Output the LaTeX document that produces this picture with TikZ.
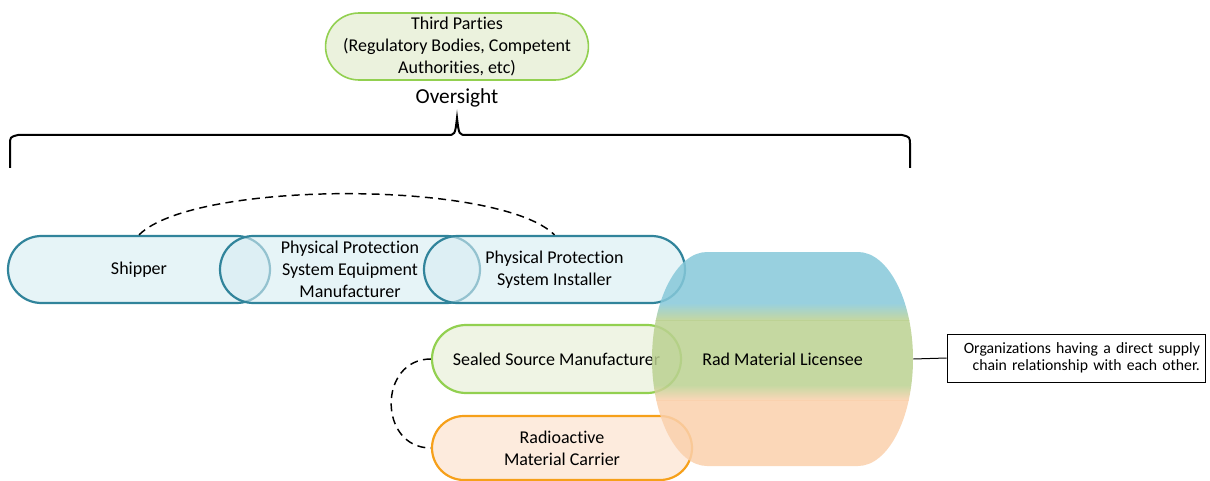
\documentclass[tikz,border=0pt]{standalone}
\usepackage{fontspec}
\setmainfont{Carlito}[Ligatures=NoCommon]
\usetikzlibrary{shapes.misc,positioning}
\newlength{\pxu}\setlength{\pxu}{0.75pt}
\definecolor{tealline}{HTML}{31849B}
\definecolor{tealfill}{HTML}{D6ECF2}
\definecolor{greenline}{HTML}{92D050}
\definecolor{greenfill}{HTML}{E4EDD2}
\definecolor{orangeline}{HTML}{F6A01A}
\definecolor{orangefill}{HTML}{FBDDC6}
\definecolor{licblue}{HTML}{86C8D9}
\definecolor{licgreen}{HTML}{BBD191}
\definecolor{licpeach}{HTML}{FAD0AC}
\tikzset{
  party/.style={rounded rectangle, line width=2.2\pxu, align=center, inner sep=0pt,
    font=\fontsize{13.5}{16.5}\selectfont, fill opacity=0.6, text opacity=1},
  bluepart/.style={party, draw=tealline, fill=tealfill, minimum height=67\pxu},
  greenpart/.style={party, draw=greenline, fill=greenfill},
  orangepart/.style={party, draw=orangeline, fill=orangefill},
  link/.style={dashed, dash pattern=on 6pt off 4pt, line width=1.1pt},
  bracket/.style={line width=1.5pt},
  notebox/.style={draw, line width=0.75pt, align=right, text width=248\pxu,
    minimum height=48\pxu, inner xsep=5\pxu, font=\fontsize{11.8}{12.5}\selectfont},
}
\begin{document}
\begin{tikzpicture}[x=0.75pt,y=-0.75pt]
  \useasboundingbox (0,0) rectangle (1210,481);
  %%%%% oversight %%%%%
  \node[greenpart, line width=1.6\pxu, minimum width=260\pxu, minimum height=67\pxu, fill opacity=0.75] (third) at (457,46.5)
    {Third Parties\\(Regulatory Bodies, Competent\\Authorities, etc)};
  \node[font=\fontsize{16}{19}\selectfont] (oversight) at (457,98) {Oversight};
  \draw[bracket] (10,168) -- (10,145) .. controls (10,137) .. (18,135) -- (447,135)
    .. controls (455,135) .. (457,118) .. controls (459,135) .. (467,135) -- (902,135)
    .. controls (910,137) .. (910,145) -- (910,168);

  %%%%% supply chain %%%%%
  \node[bluepart, minimum width=262\pxu] (shipper) at (139,269.5) {Shipper};
  \node[bluepart, minimum width=260\pxu] (ppsem) at (350,269.5)
    {Physical Protection\\System Equipment\\Manufacturer};
  \node[bluepart, minimum width=261\pxu] (installer) at (554.5,269.5)
    {Physical Protection\\System Installer};
  \node[greenpart, minimum width=249\pxu, minimum height=68\pxu] (sealed) at (556.5,359)
    {Sealed Source Manufacturer};
  \node[orangepart, minimum width=260\pxu, minimum height=64\pxu] (carrier) at (562,448)
    {Radioactive\\Material Carrier};

  % licensee
  \begin{scope}
    \clip (707,252) -- (858,252) .. controls (888,252) and (913,300) .. (913,359)
      .. controls (913,418) and (888,466) .. (858,466) -- (707,466)
      .. controls (677,466) and (652,418) .. (652,359)
      .. controls (652,300) and (677,252) .. (707,252) -- cycle;
    \fill[licblue, fill opacity=0.85] (640,245) rectangle (925,303);
    \shade[top color=licblue, bottom color=licgreen, fill opacity=0.85] (640,303) rectangle (925,320);
    \fill[licgreen, fill opacity=0.85] (640,320) rectangle (925,385);
    \shade[top color=licgreen, bottom color=licpeach, fill opacity=0.85] (640,385) rectangle (925,400);
    \fill[licpeach, fill opacity=0.85] (640,400) rectangle (925,470);
  \end{scope}
  \node[minimum width=261\pxu, minimum height=214\pxu, inner sep=0pt,
    font=\fontsize{13.5}{16.5}\selectfont] (lic) at (782.5,359) {Rad Material Licensee};

  \node[notebox] (note) at (1076,358)
    {Organizations having a direct supply\\chain relationship with each other.};
  \draw[line width=0.75pt] (lic.east) -- (note.west);

  % relationships
  \draw[link] (shipper.north) .. controls +(55,-55) and +(-55,-55) .. (installer.north);
  \draw[link] (sealed.west) .. controls +(-53,0) and +(-53,0) .. (carrier.west);
\end{tikzpicture}
\end{document}
